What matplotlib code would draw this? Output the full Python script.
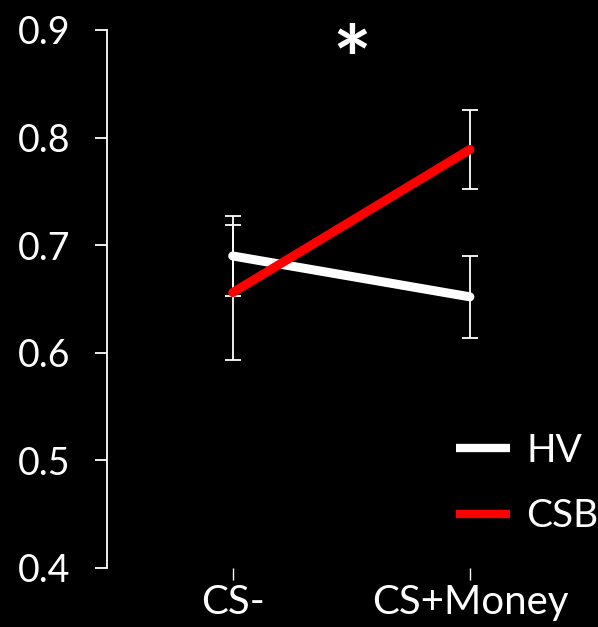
import matplotlib.pyplot as plt

plt.rcParams['font.family'] = ['Lato', 'DejaVu Sans']

# Mean values per condition with error bars
conditions = ['CS-', 'CS+Money']
hv_mean = [0.690, 0.652]
hv_err = [0.037, 0.038]
csb_mean = [0.656, 0.789]
csb_err = [0.063, 0.037]
yticks = [0.4, 0.5, 0.6, 0.7, 0.8, 0.9]

W, H = 598, 627
fig = plt.figure(figsize=(W / 100, H / 100), dpi=100, facecolor='black')
ax = fig.add_axes([107 / W, (H - 568) / H, (W - 107) / W, (568 - 30) / H])
ax.set_facecolor('black')

x = list(range(len(conditions)))

# error bars first, lines on top
ax.errorbar(x, hv_mean, yerr=hv_err, fmt='none', ecolor='white',
            elinewidth=1.3, capsize=6, capthick=1.3, zorder=2)
ax.errorbar(x, csb_mean, yerr=csb_err, fmt='none', ecolor='white',
            elinewidth=1.3, capsize=6, capthick=1.3, zorder=2)
ax.plot(x, hv_mean, color='white', lw=6.5, solid_capstyle='round', label='HV', zorder=3)
ax.plot(x, csb_mean, color='#ff0000', lw=6.5, solid_capstyle='round', label='CSB', zorder=4)

ax.set_xlim(-0.53, 1.54)
ax.set_ylim(0.4, 0.9)
ax.set_yticks(yticks)
ax.set_yticklabels([f'{v:.1f}' for v in yticks])
ax.set_xticks(x)
ax.set_xticklabels(conditions)

for side in ['top', 'right', 'bottom']:
    ax.spines[side].set_visible(False)
ax.spines['left'].set_color('white')
ax.spines['left'].set_linewidth(1.3)

ax.tick_params(axis='y', colors='white', labelsize=27, length=8.5, width=1.3, pad=18)
ax.tick_params(axis='x', colors='white', labelsize=29, length=8.5, width=1.0, pad=3)
for lab in ax.get_xticklabels() + ax.get_yticklabels():
    lab.set_color('white')

# significance marker
ax.text(0.5, 0.866, '*', color='white', fontsize=66, fontweight='bold',
        ha='center', va='center')

leg = ax.legend(loc='upper left', bbox_to_anchor=(421 / W, (H - 398) / H),
                bbox_transform=fig.transFigure, frameon=False, fontsize=28,
                handlelength=1.4, handletextpad=0.4, labelspacing=0.75)
for t in leg.get_texts():
    t.set_color('white')
for l in leg.get_lines():
    l.set_linewidth(6)
    l.set_solid_capstyle('butt')

fig.savefig('out.png', dpi=100, facecolor='black')
